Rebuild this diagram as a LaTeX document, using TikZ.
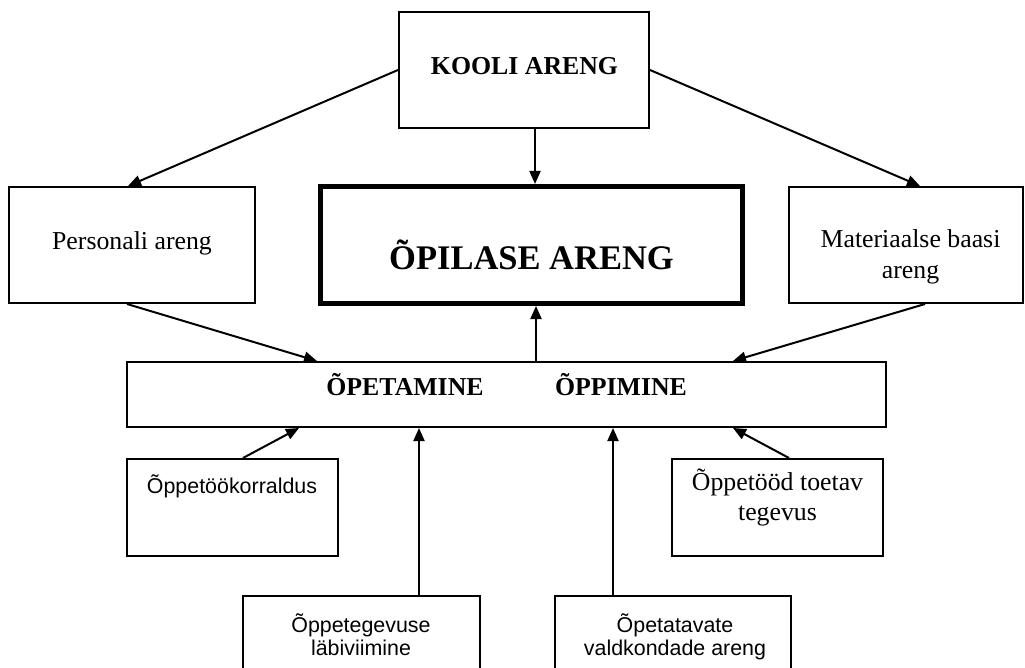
\documentclass[tikz,border=0pt]{standalone}
\usepackage{fontspec}
\setmainfont{Liberation Serif}
\newfontfamily\sansfont{Liberation Sans}
\usetikzlibrary{arrows.meta}

\begin{document}
\begin{tikzpicture}[x=1pt,y=-1pt,
  box/.style={draw, line width=2pt, rectangle, inner sep=0pt},
  thickbox/.style={draw, line width=5pt, rectangle, inner sep=0pt},
  txt/.style={inner sep=0pt, anchor=base, align=center},
  serifreg/.style={txt, font=\fontsize{25.8}{31}\selectfont},
  serifbold/.style={txt, font=\bfseries\fontsize{25.8}{31}\selectfont},
  serifbig/.style={txt, font=\bfseries\fontsize{34.5}{40}\selectfont},
  sansreg/.style={txt, font=\sansfont\fontsize{21.4}{23}\selectfont},
  link/.style={line width=2pt, -{Triangle[length=13pt,width=11pt]}}
]
\useasboundingbox (0,0) rectangle (1025,668);
\fill[white] (0,0) rectangle (1025,668);
\clip (0,0) rectangle (1025,668);

% boxes
\node[box, minimum width=250pt, minimum height=116pt] (kooli) at (524,70) {};
\node[thickbox, minimum width=422pt, minimum height=117pt] (opilane) at (531.5,245) {};
\node[box, minimum width=246pt, minimum height=116pt] (personali) at (132,245) {};
\node[box, minimum width=234pt, minimum height=116pt] (baas) at (906,245) {};
\node[box, minimum width=759pt, minimum height=65pt] (main) at (506.5,394.5) {};
\node[box, minimum width=211pt, minimum height=97pt] (korraldus) at (232.5,507.5) {};
\node[box, minimum width=211pt, minimum height=97pt] (toetav) at (777.5,507.5) {};
\node[box, minimum width=237pt, minimum height=110pt, anchor=north] (labiviimine) at (361.5,595) {};
\node[box, minimum width=236pt, minimum height=110pt, anchor=north] (valdkonnad) at (673,595) {};

% texts (multi-line nodes are placed by the baseline of their last line)
\node[serifbold] (kooli-t) at (524.5,75) {KOOLI ARENG};
\node[serifbig] (opilane-t) at (531.5,270) {ÕPILASE ARENG};
\node[serifreg] (personali-t) at (132,250) {Personali areng};
\node[serifreg] (baas-t) at (910.5,279) {Materiaalse baasi\\areng};
\node[serifbold] (opetamine-t) at (405,395) {ÕPETAMINE};
\node[serifbold] (oppimine-t) at (621,395) {ÕPPIMINE};
\node[sansreg] (korraldus-t) at (232,493) {Õppetöökorraldus};
\node[serifreg, font=\fontsize{25.8}{30}\selectfont] (toetav-t) at (777.5,520) {Õppetööd toetav\\tegevus};
\node[sansreg] (labiviimine-t) at (361,655) {Õppetegevuse\\läbiviimine};
\node[sansreg] (valdkonnad-t) at (675,655) {Õpetatavate\\valdkondade areng};

% connectors
\draw[link] (kooli.west) -- ([xshift=-4pt]personali.north);
\draw[link] ([xshift=11pt]kooli.south) -- ([xshift=11pt]kooli.south |- opilane.north);
\draw[link] (kooli.east) -- ([xshift=14pt]baas.north);
\draw[link] ([xshift=-5pt]personali.south) -- ([xshift=191pt]main.north west);
\draw[link] ([xshift=19pt]baas.south) -- ([xshift=-154pt]main.north east);
\draw[link] ([xshift=29.5pt]main.north) -- ([xshift=29.5pt]main.north |- opilane.south);
\draw[link] ([xshift=10.5pt]korraldus.north) -- ([xshift=173pt]main.south west);
\draw[link] ([xshift=57.5pt]labiviimine.north) -- ([xshift=57.5pt]labiviimine.north |- main.south);
\draw[link] ([xshift=-60pt]valdkonnad.north) -- ([xshift=-60pt]valdkonnad.north |- main.south);
\draw[link] ([xshift=11.5pt]toetav.north) -- ([xshift=-154pt]main.south east);
\end{tikzpicture}
\end{document}
